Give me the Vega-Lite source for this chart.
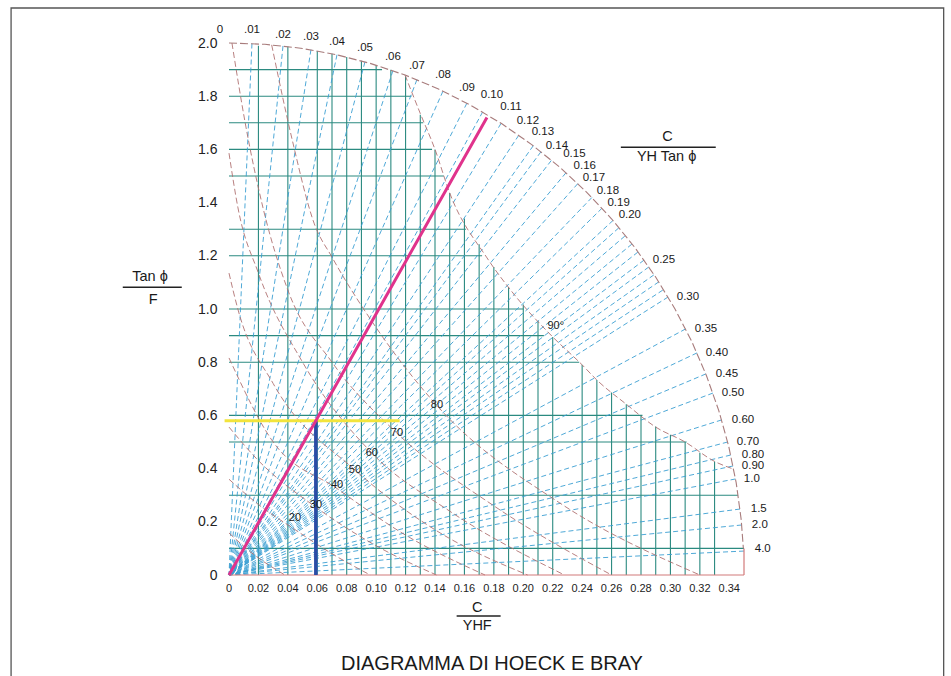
{
  "$schema": "https://vega.github.io/schema/vega-lite/v6.json",
  "width": 515,
  "height": 532,
  "autosize": {"type": "none"},
  "padding": {"left": 229, "top": 43, "right": 207, "bottom": 101},
  "background": "white",
  "config": {
    "font": "Liberation Sans",
    "view": {"stroke": null},
    "axisY": {"ticks": false, "domain": false, "grid": false, "labelFontSize": 14, "labelPadding": 12, "labelColor": "#222", "labelFlush": false, "labelOverlap": false}
  },
  "datasets": {
    "xticks": [
      {"x": 0, "t": "0"}, {"x": 0.02, "t": "0.02"}, {"x": 0.04, "t": "0.04"}, {"x": 0.06, "t": "0.06"},
      {"x": 0.08, "t": "0.08"}, {"x": 0.1, "t": "0.10"}, {"x": 0.12, "t": "0.12"}, {"x": 0.14, "t": "0.14"},
      {"x": 0.16, "t": "0.16"}, {"x": 0.18, "t": "0.18"}, {"x": 0.2, "t": "0.20"}, {"x": 0.22, "t": "0.22"},
      {"x": 0.24, "t": "0.24"}, {"x": 0.26, "t": "0.26"}, {"x": 0.28, "t": "0.28"}, {"x": 0.3, "t": "0.30"},
      {"x": 0.32, "t": "0.32"}, {"x": 0.34, "t": "0.34"}
    ],
    "vgrid": [
      {"x": 0.02, "top": 1.99}, {"x": 0.04, "top": 1.987}, {"x": 0.06, "top": 1.97}, {"x": 0.07, "top": 1.96},
      {"x": 0.08, "top": 1.947}, {"x": 0.09, "top": 1.933}, {"x": 0.10, "top": 1.916}, {"x": 0.11, "top": 1.899},
      {"x": 0.12, "top": 1.875}, {"x": 0.13, "top": 1.73}, {"x": 0.14, "top": 1.6}, {"x": 0.15, "top": 1.436},
      {"x": 0.16, "top": 1.34}, {"x": 0.17, "top": 1.243}, {"x": 0.18, "top": 1.158}, {"x": 0.19, "top": 1.083},
      {"x": 0.20, "top": 1.017}, {"x": 0.21, "top": 0.956}, {"x": 0.22, "top": 0.895}, {"x": 0.24, "top": 0.79},
      {"x": 0.25, "top": 0.733}, {"x": 0.26, "top": 0.686}, {"x": 0.27, "top": 0.642}, {"x": 0.28, "top": 0.6},
      {"x": 0.29, "top": 0.558}, {"x": 0.30, "top": 0.527}, {"x": 0.31, "top": 0.5}, {"x": 0.32, "top": 0.46},
      {"x": 0.33, "top": 0.427}
    ],
    "hgrid": [
      {"y": 0.1, "right": 0.35}, {"y": 0.3, "right": 0.346}, {"y": 0.5, "right": 0.311}, {"y": 0.6, "right": 0.281},
      {"y": 0.8, "right": 0.238}, {"y": 0.9, "right": 0.214}, {"y": 1.0, "right": 0.2}, {"y": 1.2, "right": 0.172},
      {"y": 1.3, "right": 0.161}, {"y": 1.5, "right": 0.146}, {"y": 1.6, "right": 0.138}, {"y": 1.7, "right": 0.132},
      {"y": 1.8, "right": 0.124}, {"y": 1.9, "right": 0.104}
    ],
    "rays": [
      {"k": ".01", "x": 0.0156, "y": 1.998}, {"k": ".02", "x": 0.0367, "y": 1.989}, {"k": ".03", "x": 0.0557, "y": 1.975},
      {"k": ".04", "x": 0.0734, "y": 1.956}, {"k": ".05", "x": 0.0924, "y": 1.929}, {"k": ".06", "x": 0.1114, "y": 1.896},
      {"k": ".07", "x": 0.1277, "y": 1.862}, {"k": ".08", "x": 0.1454, "y": 1.819}, {"k": ".09", "x": 0.1617, "y": 1.774},
      {"k": "0.10", "x": 0.1724, "y": 1.741}, {"k": "0.11", "x": 0.1849, "y": 1.698}, {"k": "0.12", "x": 0.1969, "y": 1.653},
      {"k": "0.13", "x": 0.2068, "y": 1.614}, {"k": "0.14", "x": 0.212, "y": 1.591}, {"k": "0.15", "x": 0.219, "y": 1.558},
      {"k": "0.16", "x": 0.229, "y": 1.512}, {"k": "0.17", "x": 0.237, "y": 1.471}, {"k": "0.18", "x": 0.2466, "y": 1.419},
      {"k": "0.19", "x": 0.2535, "y": 1.379}, {"k": "0.20", "x": 0.261, "y": 1.333},
      {"k": "0.21", "x": 0.2649, "y": 1.305}, {"k": "0.22", "x": 0.269, "y": 1.274}, {"k": "0.23", "x": 0.2738, "y": 1.244},
      {"k": "0.24", "x": 0.2779, "y": 1.214}, {"k": "0.25", "x": 0.2821, "y": 1.184},
      {"k": "0.26", "x": 0.2853, "y": 1.158}, {"k": "0.27", "x": 0.2887, "y": 1.128}, {"k": "0.28", "x": 0.2921, "y": 1.102},
      {"k": "0.29", "x": 0.2948, "y": 1.071}, {"k": "0.30", "x": 0.2984, "y": 1.045},
      {"k": "0.35", "x": 0.3103, "y": 0.925}, {"k": "0.40", "x": 0.3181, "y": 0.835}, {"k": "0.45", "x": 0.3241, "y": 0.756},
      {"k": "0.50", "x": 0.3289, "y": 0.684}, {"k": "0.60", "x": 0.3348, "y": 0.583}, {"k": "0.70", "x": 0.3389, "y": 0.5},
      {"k": "0.80", "x": 0.341, "y": 0.451}, {"k": "0.90", "x": 0.3426, "y": 0.41}, {"k": "1.0", "x": 0.3442, "y": 0.361},
      {"k": "1.5", "x": 0.3473, "y": 0.248}, {"k": "2.0", "x": 0.3485, "y": 0.188}, {"k": "4.0", "x": 0.35, "y": 0.09}
    ],
    "curves": [
      {"c": "80", "x": 0.029, "y": 1.993}, {"c": "80", "x": 0.043, "y": 1.635}, {"c": "80", "x": 0.058, "y": 1.32},
      {"c": "80", "x": 0.07, "y": 1.195}, {"c": "80", "x": 0.1, "y": 0.93}, {"c": "80", "x": 0.141, "y": 0.639},
      {"c": "80", "x": 0.225, "y": 0.27}, {"c": "80", "x": 0.32, "y": 0},
      {"c": "70", "x": 0.002, "y": 2.0}, {"c": "70", "x": 0.011, "y": 1.7}, {"c": "70", "x": 0.023, "y": 1.383},
      {"c": "70", "x": 0.04, "y": 1.071}, {"c": "70", "x": 0.07, "y": 0.8}, {"c": "70", "x": 0.114, "y": 0.534},
      {"c": "70", "x": 0.18, "y": 0.26}, {"c": "70", "x": 0.26, "y": 0},
      {"c": "60", "x": 0, "y": 1.586}, {"c": "60", "x": 0.006, "y": 1.383}, {"c": "60", "x": 0.02, "y": 1.135},
      {"c": "60", "x": 0.05, "y": 0.8}, {"c": "60", "x": 0.097, "y": 0.459}, {"c": "60", "x": 0.15, "y": 0.24},
      {"c": "60", "x": 0.228, "y": 0},
      {"c": "50", "x": 0, "y": 1.135}, {"c": "50", "x": 0.006, "y": 1.0}, {"c": "50", "x": 0.03, "y": 0.72},
      {"c": "50", "x": 0.0856, "y": 0.395}, {"c": "50", "x": 0.14, "y": 0.17}, {"c": "50", "x": 0.203, "y": 0},
      {"c": "40", "x": 0, "y": 0.816}, {"c": "40", "x": 0.029, "y": 0.508}, {"c": "40", "x": 0.0734, "y": 0.325},
      {"c": "40", "x": 0.12, "y": 0.15}, {"c": "40", "x": 0.174, "y": 0},
      {"c": "30", "x": 0, "y": 0.556}, {"c": "30", "x": 0.02, "y": 0.43}, {"c": "30", "x": 0.059, "y": 0.255},
      {"c": "30", "x": 0.1, "y": 0.11}, {"c": "30", "x": 0.141, "y": 0},
      {"c": "20", "x": 0, "y": 0.36}, {"c": "20", "x": 0.02, "y": 0.265}, {"c": "20", "x": 0.045, "y": 0.17},
      {"c": "20", "x": 0.07, "y": 0.08}, {"c": "20", "x": 0.096, "y": 0},
      {"c": "10", "x": 0, "y": 0.158}, {"c": "10", "x": 0.015, "y": 0.085}, {"c": "10", "x": 0.038, "y": 0},
      {"c": "90", "x": 0.1196, "y": 1.88}, {"c": "90", "x": 0.13, "y": 1.735}, {"c": "90", "x": 0.14, "y": 1.6},
      {"c": "90", "x": 0.15, "y": 1.436}, {"c": "90", "x": 0.175, "y": 1.195}, {"c": "90", "x": 0.193, "y": 1.06},
      {"c": "90", "x": 0.22, "y": 0.895}, {"c": "90", "x": 0.24, "y": 0.79}, {"c": "90", "x": 0.25, "y": 0.733},
      {"c": "90", "x": 0.27, "y": 0.642}, {"c": "90", "x": 0.29, "y": 0.556}, {"c": "90", "x": 0.31, "y": 0.5},
      {"c": "90", "x": 0.33, "y": 0.427}, {"c": "90", "x": 0.343, "y": 0.398}
    ],
    "arc": [
      {"x": 0, "y": 2.0}, {"x": 0.02442, "y": 1.9951}, {"x": 0.04871, "y": 1.9805}, {"x": 0.07277, "y": 1.9563},
      {"x": 0.09647, "y": 1.9225}, {"x": 0.11971, "y": 1.8794}, {"x": 0.14236, "y": 1.8271}, {"x": 0.16431, "y": 1.7659},
      {"x": 0.18547, "y": 1.6961}, {"x": 0.20573, "y": 1.618}, {"x": 0.22498, "y": 1.5321}, {"x": 0.24313, "y": 1.4387},
      {"x": 0.2601, "y": 1.3383}, {"x": 0.2758, "y": 1.2313}, {"x": 0.29016, "y": 1.1184}, {"x": 0.30311, "y": 1.0},
      {"x": 0.31458, "y": 0.8767}, {"x": 0.32451, "y": 0.7492}, {"x": 0.33287, "y": 0.618}, {"x": 0.33961, "y": 0.4838},
      {"x": 0.34468, "y": 0.3473}, {"x": 0.34808, "y": 0.2091}, {"x": 0.34956, "y": 0.1}
    ],
    "topLabels": [
      {"t": "0", "x": -0.0061, "y": 2.049}, {"t": ".01", "x": 0.0156, "y": 2.049}, {"t": ".02", "x": 0.0367, "y": 2.03},
      {"t": ".03", "x": 0.0557, "y": 2.023}, {"t": ".04", "x": 0.0734, "y": 2.004}, {"t": ".05", "x": 0.0924, "y": 1.981},
      {"t": ".06", "x": 0.1114, "y": 1.947}, {"t": ".07", "x": 0.1277, "y": 1.914}, {"t": ".08", "x": 0.1454, "y": 1.88},
      {"t": ".09", "x": 0.1617, "y": 1.831}, {"t": "0.10", "x": 0.1787, "y": 1.805}, {"t": "0.11", "x": 0.1916, "y": 1.759},
      {"t": "0.12", "x": 0.2031, "y": 1.707}, {"t": "0.13", "x": 0.2133, "y": 1.665}, {"t": "0.14", "x": 0.2228, "y": 1.613},
      {"t": "0.15", "x": 0.2347, "y": 1.583}, {"t": "0.16", "x": 0.2418, "y": 1.536}, {"t": "0.17", "x": 0.248, "y": 1.492},
      {"t": "0.18", "x": 0.2575, "y": 1.442}, {"t": "0.19", "x": 0.2648, "y": 1.398}, {"t": "0.20", "x": 0.2724, "y": 1.353}
    ],
    "sideLabels": [
      {"t": "0.25", "x": 0.288, "y": 1.184}, {"t": "0.30", "x": 0.3043, "y": 1.045}, {"t": "0.35", "x": 0.3166, "y": 0.925},
      {"t": "0.40", "x": 0.324, "y": 0.835}, {"t": "0.45", "x": 0.3308, "y": 0.756}, {"t": "0.50", "x": 0.3349, "y": 0.684},
      {"t": "0.60", "x": 0.3417, "y": 0.583}, {"t": "0.70", "x": 0.3451, "y": 0.5}, {"t": "0.80", "x": 0.3485, "y": 0.453},
      {"t": "0.90", "x": 0.3485, "y": 0.409}, {"t": "1.0", "x": 0.3499, "y": 0.361}, {"t": "1.5", "x": 0.3546, "y": 0.248},
      {"t": "2.0", "x": 0.3553, "y": 0.188}, {"t": "4.0", "x": 0.3573, "y": 0.098}
    ],
    "angleLabels": [
      {"t": "20", "x": 0.0448, "y": 0.214}, {"t": "30", "x": 0.0591, "y": 0.263}, {"t": "40", "x": 0.0734, "y": 0.338},
      {"t": "50", "x": 0.0856, "y": 0.395}, {"t": "60", "x": 0.0971, "y": 0.459}, {"t": "70", "x": 0.1141, "y": 0.534},
      {"t": "80", "x": 0.1413, "y": 0.639}, {"t": "90°", "x": 0.2221, "y": 0.936}
    ],
    "magenta": [{"x": 0, "y": 0}, {"x": 0.059, "y": 0.58}, {"x": 0.1753, "y": 1.72}],
    "yellow": [{"x": -0.003, "x2": 0.116, "y": 0.58}],
    "blue": [{"x": 0.059, "y": 0.58}]
  },
  "layer": [
    {
      "data": {"name": "vgrid"},
      "mark": {"type": "rule", "color": "#2b8a80", "strokeWidth": 1.1},
      "encoding": {
        "x": {"field": "x", "type": "quantitative", "scale": {"domain": [0, 0.35], "nice": false, "zero": false}, "axis": null},
        "y": {"field": "top", "type": "quantitative", "scale": {"domain": [0, 2], "nice": false, "zero": false},
          "axis": {"values": [0, 0.2, 0.4, 0.6, 0.8, 1.0, 1.2, 1.4, 1.6, 1.8, 2.0],
            "labelExpr": "datum.value == 0 ? '0' : format(datum.value, '.1f')", "title": null, "labelOverlap": false}},
        "y2": {"datum": 0}
      }
    },
    {
      "data": {"name": "hgrid"},
      "mark": {"type": "rule", "color": "#2b8a80", "strokeWidth": 1.1},
      "encoding": {
        "x": {"field": "right", "type": "quantitative", "scale": {"domain": [0, 0.35], "nice": false, "zero": false}, "axis": null},
        "x2": {"datum": 0},
        "y": {"field": "y", "type": "quantitative", "scale": {"domain": [0, 2], "nice": false, "zero": false}, "axis": {"title": null}}
      }
    },
    {
      "data": {"name": "rays"},
      "mark": {"type": "rule", "color": "#3b9fd2", "strokeWidth": 0.9, "strokeDash": [5, 3]},
      "encoding": {
        "x": {"field": "x", "type": "quantitative", "scale": {"domain": [0, 0.35], "nice": false, "zero": false}, "axis": null},
        "y": {"field": "y", "type": "quantitative", "scale": {"domain": [0, 2], "nice": false, "zero": false}, "axis": {"title": null}},
        "x2": {"datum": 0},
        "y2": {"datum": 0}
      }
    },
    {
      "data": {"name": "curves"},
      "mark": {"type": "line", "color": "#b07272", "strokeWidth": 0.9, "strokeDash": [6, 3], "interpolate": "monotone"},
      "encoding": {
        "x": {"field": "x", "type": "quantitative", "scale": {"domain": [0, 0.35], "nice": false, "zero": false}, "axis": null},
        "y": {"field": "y", "type": "quantitative", "scale": {"domain": [0, 2], "nice": false, "zero": false}, "axis": {"title": null}},
        "detail": {"field": "c", "type": "nominal"}
      }
    },
    {
      "data": {"name": "arc"},
      "mark": {"type": "line", "color": "#a87c7c", "strokeWidth": 1.1, "strokeDash": [8, 3]},
      "encoding": {
        "x": {"field": "x", "type": "quantitative", "scale": {"domain": [0, 0.35], "nice": false, "zero": false}, "axis": null},
        "y": {"field": "y", "type": "quantitative", "scale": {"domain": [0, 2], "nice": false, "zero": false}, "axis": {"title": null}}
      }
    },
    {
      "data": {"values": [{"x": 0, "x2": 0.35, "y": 0, "y2": 0}, {"x": 0.35, "x2": 0.35, "y": 0, "y2": 0.1}]},
      "mark": {"type": "rule", "color": "#d27a7a", "strokeWidth": 1.2},
      "encoding": {
        "x": {"field": "x", "type": "quantitative", "scale": {"domain": [0, 0.35], "nice": false, "zero": false}, "axis": null},
        "x2": {"field": "x2"},
        "y": {"field": "y", "type": "quantitative", "scale": {"domain": [0, 2], "nice": false, "zero": false}, "axis": {"title": null}},
        "y2": {"field": "y2"}
      }
    },
    {
      "data": {"name": "yellow"},
      "mark": {"type": "rule", "color": "#f2e43c", "strokeWidth": 3},
      "encoding": {
        "x": {"field": "x", "type": "quantitative", "scale": {"domain": [0, 0.35], "nice": false, "zero": false}, "axis": null},
        "x2": {"field": "x2"},
        "y": {"field": "y", "type": "quantitative", "scale": {"domain": [0, 2], "nice": false, "zero": false}, "axis": {"title": null}}
      }
    },
    {
      "data": {"name": "blue"},
      "mark": {"type": "rule", "color": "#2b4ca6", "strokeWidth": 3.5},
      "encoding": {
        "x": {"field": "x", "type": "quantitative", "scale": {"domain": [0, 0.35], "nice": false, "zero": false}, "axis": null},
        "y": {"field": "y", "type": "quantitative", "scale": {"domain": [0, 2], "nice": false, "zero": false}, "axis": {"title": null}},
        "y2": {"datum": 0}
      }
    },
    {
      "data": {"name": "magenta"},
      "mark": {"type": "line", "color": "#e0338c", "strokeWidth": 3},
      "encoding": {
        "x": {"field": "x", "type": "quantitative", "scale": {"domain": [0, 0.35], "nice": false, "zero": false}, "axis": null},
        "y": {"field": "y", "type": "quantitative", "scale": {"domain": [0, 2], "nice": false, "zero": false}, "axis": {"title": null}}
      }
    },
    {
      "data": {"name": "xticks"},
      "mark": {"type": "text", "fontSize": 11, "color": "#222", "align": "center", "baseline": "top", "dy": 8},
      "encoding": {
        "x": {"field": "x", "type": "quantitative", "scale": {"domain": [0, 0.35], "nice": false, "zero": false}, "axis": null},
        "y": {"datum": 0, "type": "quantitative", "scale": {"domain": [0, 2], "nice": false, "zero": false}, "axis": {"title": null}},
        "text": {"field": "t", "type": "nominal"}
      }
    },
    {
      "data": {"name": "topLabels"},
      "mark": {"type": "text", "fontSize": 11.5, "color": "#1a1a1a", "align": "center", "baseline": "middle"},
      "encoding": {
        "x": {"field": "x", "type": "quantitative", "scale": {"domain": [0, 0.35], "nice": false, "zero": false}, "axis": null},
        "y": {"field": "y", "type": "quantitative", "scale": {"domain": [0, 2], "nice": false, "zero": false}, "axis": {"title": null}},
        "text": {"field": "t", "type": "nominal"}
      }
    },
    {
      "data": {"name": "sideLabels"},
      "mark": {"type": "text", "fontSize": 11.5, "color": "#1a1a1a", "align": "left", "baseline": "middle"},
      "encoding": {
        "x": {"field": "x", "type": "quantitative", "scale": {"domain": [0, 0.35], "nice": false, "zero": false}, "axis": null},
        "y": {"field": "y", "type": "quantitative", "scale": {"domain": [0, 2], "nice": false, "zero": false}, "axis": {"title": null}},
        "text": {"field": "t", "type": "nominal"}
      }
    },
    {
      "data": {"name": "angleLabels"},
      "mark": {"type": "text", "fontSize": 11, "color": "#1a1a1a", "align": "center", "baseline": "middle"},
      "encoding": {
        "x": {"field": "x", "type": "quantitative", "scale": {"domain": [0, 0.35], "nice": false, "zero": false}, "axis": null},
        "y": {"field": "y", "type": "quantitative", "scale": {"domain": [0, 2], "nice": false, "zero": false}, "axis": {"title": null}},
        "text": {"field": "t", "type": "nominal"}
      }
    },
    {
      "data": {"values": [
        {"t": "Tan ϕ", "x": -0.0537, "y": 1.12},
        {"t": "F", "x": -0.0516, "y": 1.034},
        {"t": "C", "x": 0.298, "y": 1.648},
        {"t": "YH  Tan ϕ", "x": 0.2974, "y": 1.57},
        {"t": "C", "x": 0.1687, "y": -0.125},
        {"t": "YHF", "x": 0.1687, "y": -0.192}
      ]},
      "mark": {"type": "text", "fontSize": 14.5, "color": "#1a1a1a", "align": "center", "baseline": "middle"},
      "encoding": {
        "x": {"field": "x", "type": "quantitative", "scale": {"domain": [0, 0.35], "nice": false, "zero": false}, "axis": null},
        "y": {"field": "y", "type": "quantitative", "scale": {"domain": [0, 2], "nice": false, "zero": false}, "axis": {"title": null}},
        "text": {"field": "t", "type": "nominal"}
      }
    },
    {
      "data": {"values": [{"t": "DIAGRAMMA DI HOECK E BRAY", "x": 0.1787, "y": -0.3346}]},
      "mark": {"type": "text", "fontSize": 20, "color": "#1a1a1a", "align": "center", "baseline": "middle"},
      "encoding": {
        "x": {"field": "x", "type": "quantitative", "scale": {"domain": [0, 0.35], "nice": false, "zero": false}, "axis": null},
        "y": {"field": "y", "type": "quantitative", "scale": {"domain": [0, 2], "nice": false, "zero": false}, "axis": {"title": null}},
        "text": {"field": "t", "type": "nominal"}
      }
    },
    {
      "data": {"values": [
        {"x": -0.0722, "x2": -0.0321, "y": 1.0816},
        {"x": 0.2663, "x2": 0.3308, "y": 1.608},
        {"x": 0.1547, "x2": 0.1846, "y": -0.154}
      ]},
      "mark": {"type": "rule", "color": "#222", "strokeWidth": 1.4},
      "encoding": {
        "x": {"field": "x", "type": "quantitative", "scale": {"domain": [0, 0.35], "nice": false, "zero": false}, "axis": null},
        "x2": {"field": "x2"},
        "y": {"field": "y", "type": "quantitative", "scale": {"domain": [0, 2], "nice": false, "zero": false}, "axis": {"title": null}}
      }
    },
    {
      "data": {"values": [{"x": -0.1481, "x2": 0.4857, "y": 2.1316, "y2": -0.5}]},
      "mark": {"type": "rect", "filled": false, "stroke": "#555", "strokeWidth": 1.3},
      "encoding": {
        "x": {"field": "x", "type": "quantitative", "scale": {"domain": [0, 0.35], "nice": false, "zero": false}, "axis": null},
        "x2": {"field": "x2"},
        "y": {"field": "y", "type": "quantitative", "scale": {"domain": [0, 2], "nice": false, "zero": false}, "axis": {"title": null}},
        "y2": {"field": "y2"}
      }
    }
  ]
}
